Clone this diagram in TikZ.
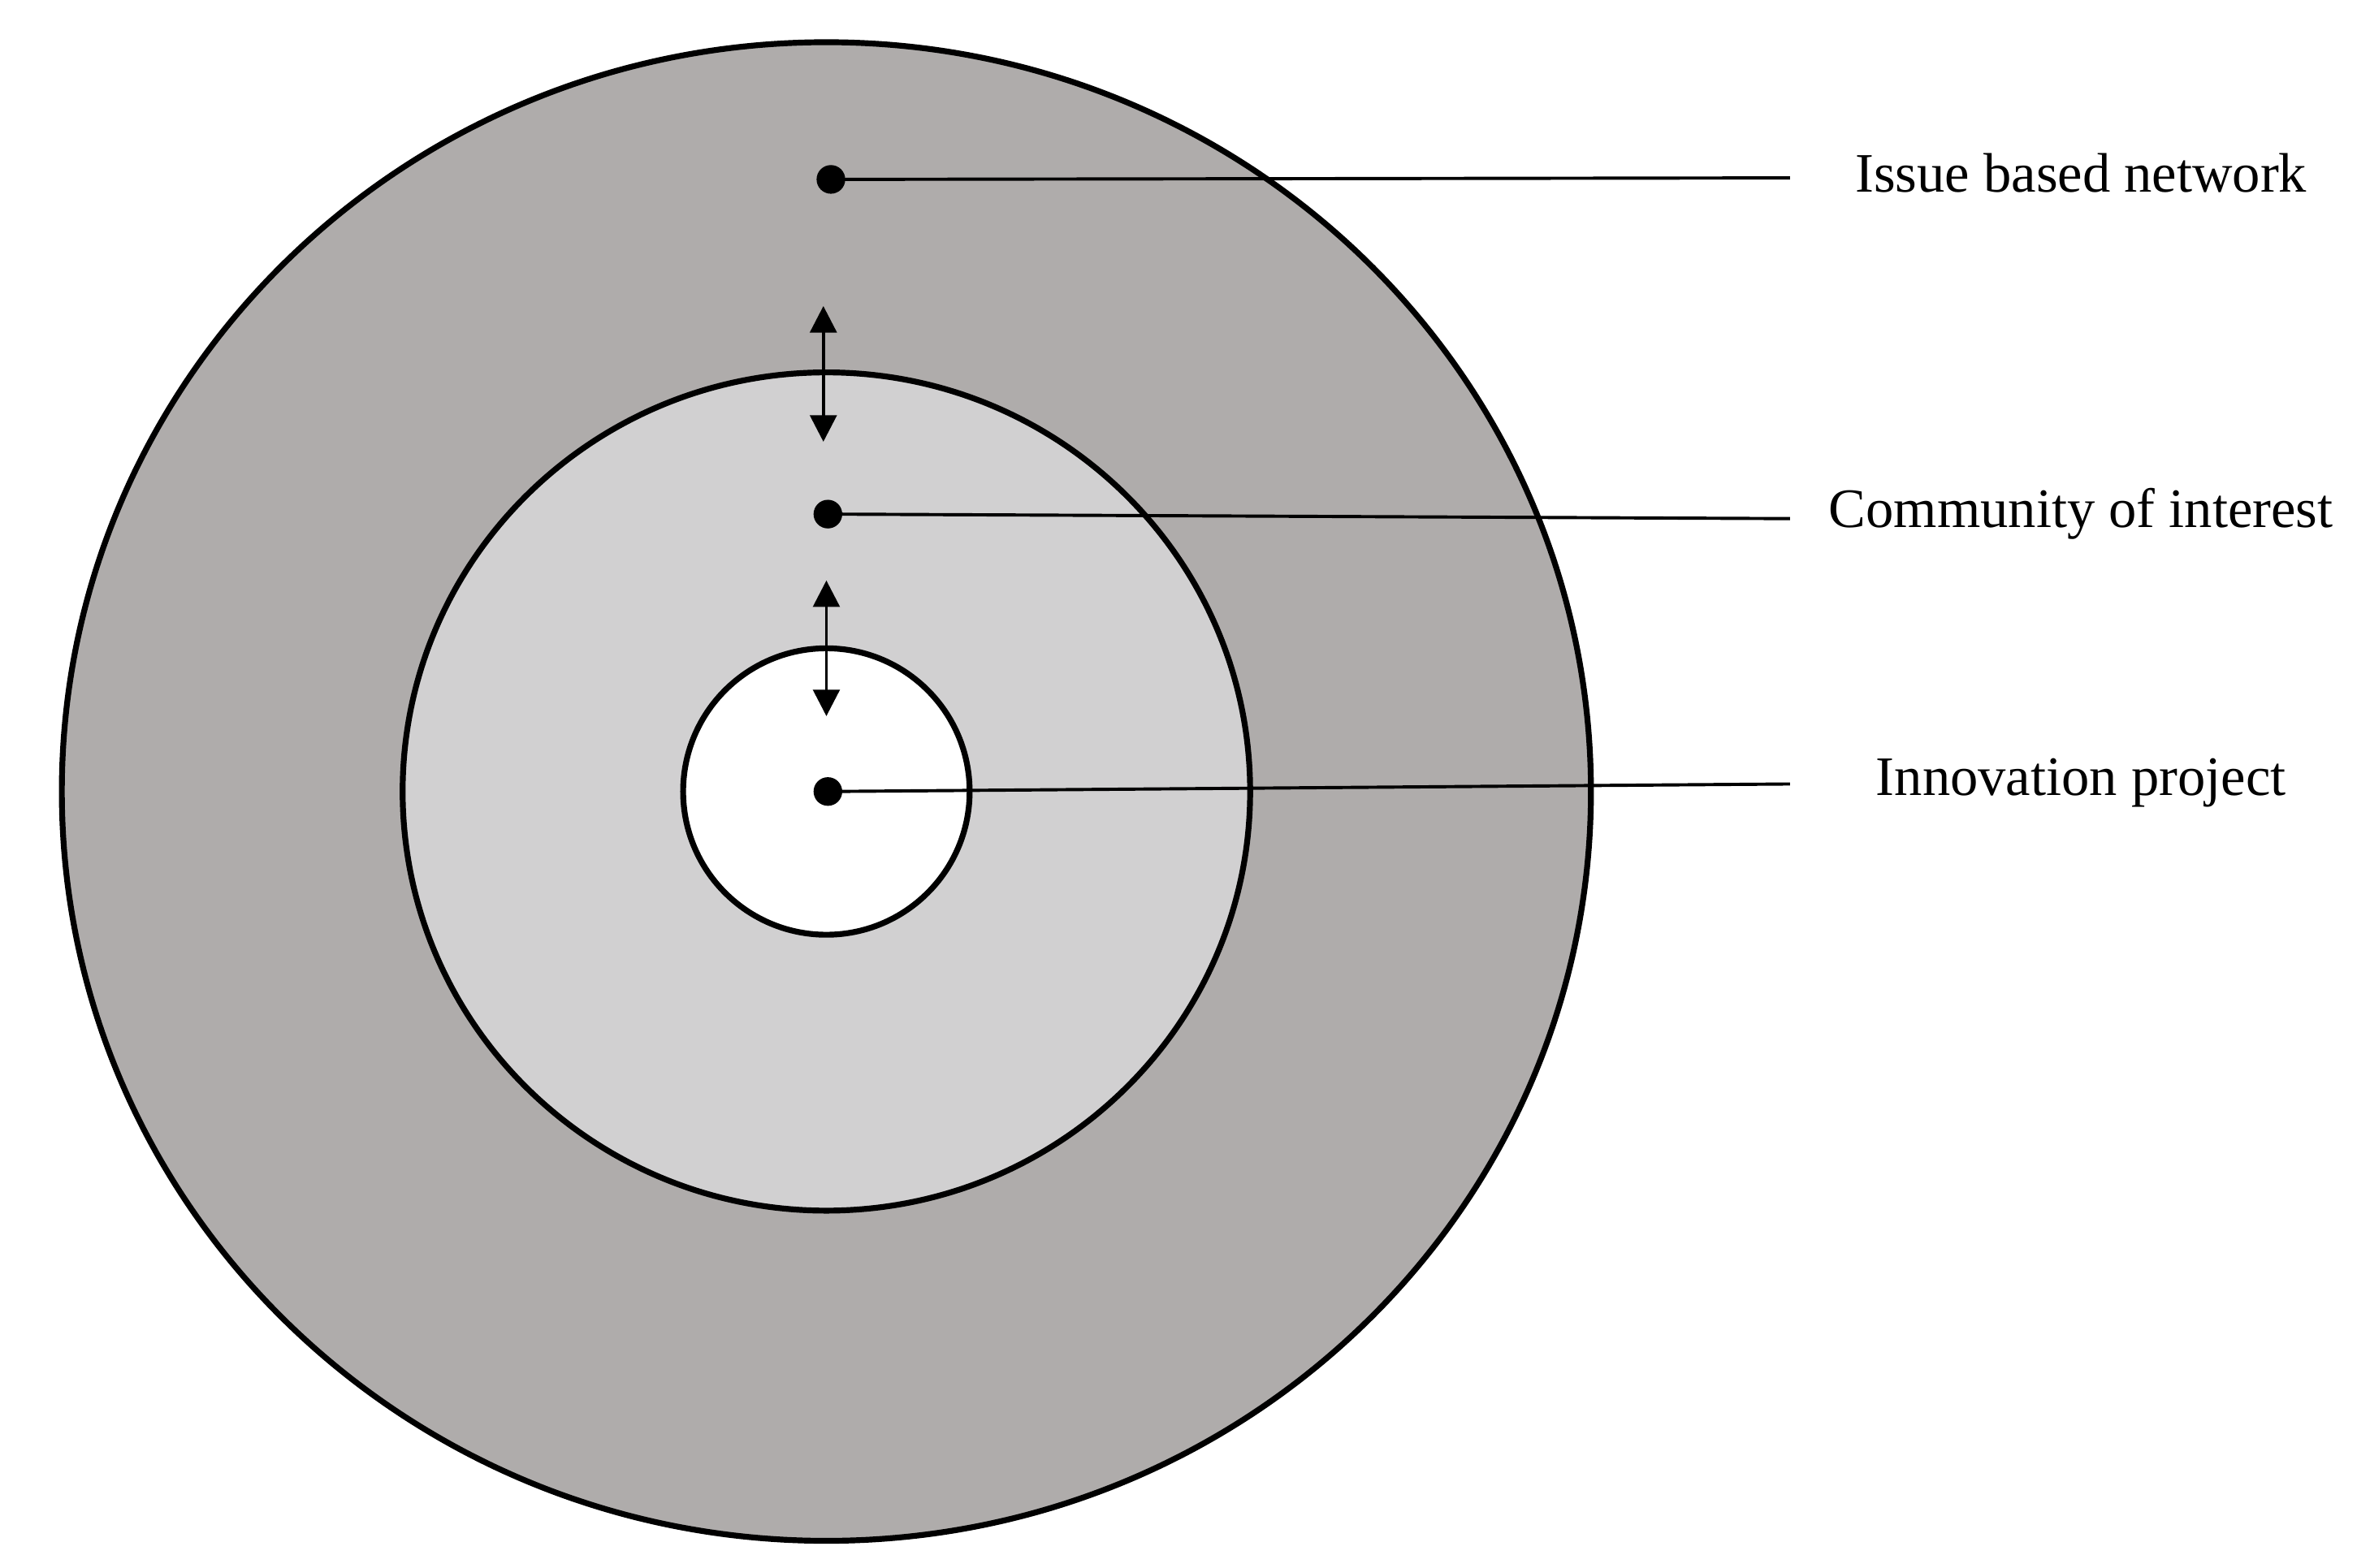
\documentclass[tikz,border=0pt]{standalone}
\usepackage{fontspec}
\setmainfont{Liberation Serif}
\usetikzlibrary{arrows.meta}
\definecolor{outerg}{HTML}{AFACAB}
\definecolor{midg}{HTML}{D1D0D1}
\begin{document}
\begin{tikzpicture}[x=0.01cm,y=-0.01cm,
  ring/.style={draw=black,line width=1.1pt},
  dot/.style={circle,fill=black,inner sep=0pt,minimum size=0.19cm},
  lead/.style={draw=black,line width=0.6pt},
  lab/.style={font=\fontsize{10.5}{12}\selectfont,anchor=center},
  dbl/.style={draw=black,line width=0.6pt,{Triangle[length=5pt,width=5pt]}-{Triangle[length=5pt,width=5pt]}}]
\useasboundingbox (0,0) rectangle (1563,1040);
\fill[white] (0,0) rectangle (1563,1040);
\draw[ring,fill=outerg] (548,525) ellipse [x radius=507,y radius=497];
\draw[ring,fill=midg] (548,525) ellipse [x radius=281,y radius=278];
\draw[ring,fill=white] (548,525) ellipse [x radius=95,y radius=95];
\node[dot] (d1) at (551,119) {};
\node[dot] (d2) at (549,341) {};
\node[dot] (d3) at (549,525) {};
\coordinate (e1) at (1187,118);
\coordinate (e2) at (1187,344);
\coordinate (e3) at (1187,520);
\draw[lead] (d1.center) -- (e1);
\draw[lead] (d2.center) -- (e2);
\draw[lead] (d3.center) -- (e3);
\node[lab] (l1) at (1380,115) {Issue based network};
\node[lab] (l2) at (1380,341) {Community of interest};
\node[lab] (l3) at (1380,519) {Innovation project};
\coordinate (a1) at (546,203); \coordinate (a2) at (546,293);
\coordinate (b1) at (548,385); \coordinate (b2) at (548,475);
\draw[dbl] (a1) -- (a2);
\draw[dbl] (b1) -- (b2);
\end{tikzpicture}
\end{document}
